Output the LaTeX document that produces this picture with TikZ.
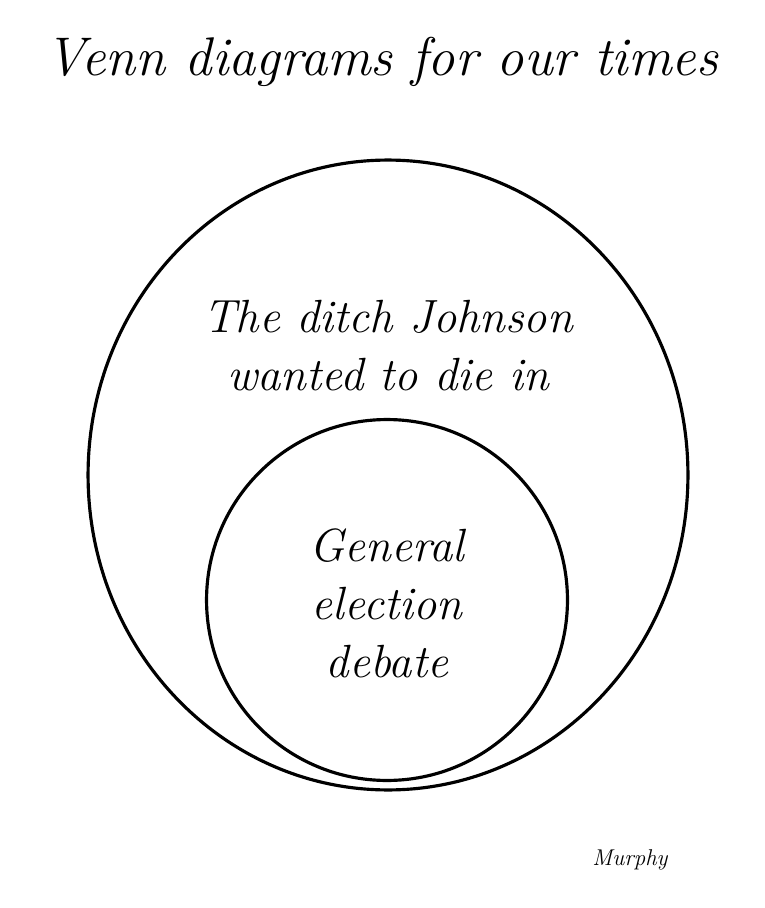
\documentclass[tikz,border=0pt]{standalone}
\usepackage{xcolor}
\usepackage{amsmath}
\usepackage{tikz}
\usetikzlibrary{shapes.geometric,positioning}

\begin{document}
\begin{tikzpicture}[x=0.02cm,y=-0.02cm,inner sep=1pt,
  ring/.style={draw=black,line width=1.8pt,inner sep=0pt},
  label/.style={align=center,font=\itshape\fontsize{26.5}{33}\selectfont}]
\useasboundingbox (0,0) rectangle (764,908);
\node[anchor=base,font=\itshape\fontsize{31}{36}\selectfont] (T) at (382,76) {Venn diagrams for our times};
\node[ring,ellipse,minimum width=12cm,minimum height=12.6cm] (O) at (388,475) {};
\node[ring,circle,minimum size=7.22cm] (I) at (387,600) {};
\node[label] (L) at (388,346) {The ditch Johnson\\wanted to die in};
\node[label] (G) at (387,603) {General\\election\\debate};
\node[anchor=base,font=\itshape\fontsize{13}{15}\selectfont] (M) at (630,865) {Murphy};
\end{tikzpicture}
\end{document}
